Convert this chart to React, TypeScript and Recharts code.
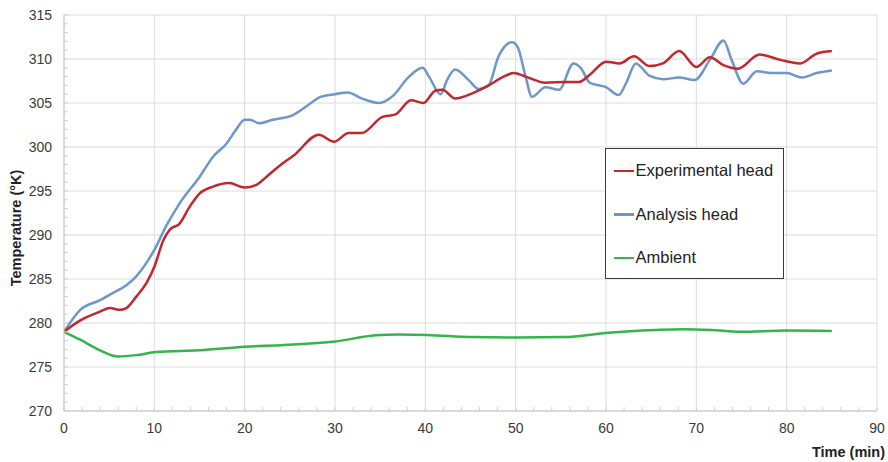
import React from 'react';
import { LineChart, Line, XAxis, YAxis, CartesianGrid, Legend } from 'recharts';

// Experimental head (red)
const expTime = [0, 1.8, 4, 5.1, 6.2, 6.9, 8, 9.1, 10, 11, 11.7, 12.8, 13.9, 15, 16.5, 18.3, 20, 21.3, 22.4, 23.9, 25.5, 28.2, 29.9, 31.5, 33, 35.2, 36.7, 38.4, 39.8, 41.1, 41.9, 43.3, 45.2, 47, 48.5, 49.8, 51.1, 53.3, 55.5, 57, 58.3, 60, 61.5, 63.1, 64.8, 66.3, 68.1, 70, 71.5, 73, 74.6, 77, 79.3, 81.5, 83.3, 85];
const expTemp = [279, 280.3, 281.3, 281.7, 281.5, 281.7, 283, 284.5, 286.4, 289.4, 290.6, 291.3, 293.2, 294.7, 295.5, 295.9, 295.4, 295.7, 296.6, 297.9, 299.1, 301.4, 300.6, 301.6, 301.6, 303.4, 303.7, 305.3, 305.0, 306.4, 306.5, 305.5, 306.1, 307.0, 307.9, 308.4, 308.0, 307.3, 307.4, 307.4, 308.3, 309.7, 309.5, 310.3, 309.2, 309.5, 310.9, 309.1, 310.2, 309.3, 308.9, 310.5, 309.9, 309.5, 310.6, 310.9];

// Analysis head (blue)
const anaTime = [0, 1.8, 4, 5.4, 6.9, 8, 9.1, 10, 11.3, 12.8, 15, 16.5, 18, 19, 20, 20.6, 21.6, 23.1, 25.3, 26.8, 28.4, 30, 31.4, 33, 34.9, 36.3, 38.2, 39.7, 40.4, 41.7, 42.4, 43.3, 44.8, 45.9, 47, 48.1, 49.6, 50.2, 51.1, 51.8, 53.3, 54.8, 56.4, 57.2, 58.2, 60, 61.4, 62.2, 63.3, 64.8, 66.3, 68.1, 69.8, 71.5, 73, 73.9, 75.2, 76.7, 78.5, 80, 81.7, 83.3, 85];
const anaTemp = [279, 281.5, 282.6, 283.4, 284.3, 285.3, 286.8, 288.3, 291, 293.6, 296.6, 298.9, 300.4, 301.9, 303.1, 303.1, 302.7, 303.1, 303.6, 304.6, 305.7, 306.0, 306.2, 305.5, 305.0, 305.7, 308.0, 309.0, 308.0, 306.0, 307.6, 308.8, 307.6, 306.6, 307.0, 310.3, 311.9, 311.4, 308.0, 305.7, 306.8, 306.5, 309.5, 309.0, 307.3, 306.8, 305.9, 307.2, 309.5, 308.1, 307.7, 307.9, 307.6, 309.9, 312.1, 309.9, 307.2, 308.6, 308.4, 308.4, 307.9, 308.4, 308.7];

// Ambient (green)
const ambTime = [0, 1.8, 4, 6, 8, 10.2, 15, 20, 24.4, 30, 34.5, 37, 40.2, 45.2, 50.3, 55.3, 60.3, 65.4, 68.5, 71.7, 74.8, 79.9, 85];
const ambTemp = [279, 278.1, 276.9, 276.2, 276.35, 276.7, 276.9, 277.3, 277.5, 277.9, 278.6, 278.7, 278.65, 278.4, 278.35, 278.4, 278.9, 279.2, 279.3, 279.2, 279.0, 279.15, 279.1];

const xMinorTicks = Array.from({ length: 46 }, (_, i) => i * 2);
const xMajorTicks = [0, 10, 20, 30, 40, 50, 60, 70, 80, 90];
const yMinorTicks = Array.from({ length: 46 }, (_, i) => 270 + i);
const yMajorTicks = [270, 275, 280, 285, 290, 295, 300, 305, 310, 315];

const seriesNames = ['Experimental head', 'Analysis head', 'Ambient'];
const seriesColors = ['#C0282E', '#6E96C8', '#35B44C'];

const toData = (ts: number[], vs: number[]) => ts.map((t, i) => ({ t, v: vs[i] }));
const expData = toData(expTime, expTemp);
const anaData = toData(anaTime, anaTemp);
const ambData = toData(ambTime, ambTemp);

const FONT = '"Liberation Sans", Arial, sans-serif';
const TICK_GAP = 12;

const XTick = (props: any) => {
  const { x, y, payload } = props;
  const axisY = y - TICK_GAP;
  const major = payload.value % 10 === 0;
  return (
    <g>
      <line x1={x} x2={x} y1={axisY} y2={axisY - 4} stroke="#cfcfcf" strokeWidth={1} />
      {major && (
        <text x={x} y={y} dy="0.71em" textAnchor="middle" fontSize={14} fill="#3a3a3a" fontFamily={FONT}>
          {payload.value}
        </text>
      )}
    </g>
  );
};

const YTick = (props: any) => {
  const { x, y, payload } = props;
  const axisX = x + TICK_GAP;
  const major = payload.value % 5 === 0;
  return (
    <g>
      <line x1={axisX} x2={axisX + 4} y1={y} y2={y} stroke="#cfcfcf" strokeWidth={1} />
      {major && (
        <text x={x} y={y} dy="0.355em" textAnchor="end" fontSize={14} fill="#3a3a3a" fontFamily={FONT}>
          {payload.value}
        </text>
      )}
    </g>
  );
};

const LegendBox = () => (
  <div
    style={{
      width: 179,
      height: 131,
      border: '1.5px solid #3a3a3a',
      background: '#fff',
      boxSizing: 'border-box',
      paddingTop: 0,
      fontFamily: FONT,
    }}
  >
    {seriesNames.map((n, i) => (
      <div key={n} style={{ display: 'flex', alignItems: 'center', height: 43.5 }}>
        <div style={{ width: 20, height: 2.5, background: seriesColors[i], marginLeft: 7.5, marginRight: 2 }} />
        <span style={{ fontSize: 16.5, color: '#222', whiteSpace: 'nowrap' }}>{n}</span>
      </div>
    ))}
  </div>
);

const YLabel = (props: any) => {
  const vb = props.viewBox || { x: 0, y: 15, width: 64, height: 396 };
  const cx = vb.x + 16;
  const cy = vb.y + vb.height / 2 + 15;
  return (
    <text x={cx} y={cy} transform={`rotate(-90, ${cx}, ${cy})`} textAnchor="middle" dy="0.35em" fontSize={14.5} fontWeight="bold" fill="#222" fontFamily={FONT}>
      Temperature (°K)
    </text>
  );
};

const XLabel = (props: any) => {
  const vb = props.viewBox || { x: 64, y: 411, width: 813, height: 51 };
  const rx = vb.x + vb.width + 8;
  const ry = vb.y + 41;
  return (
    <text x={rx} y={ry} textAnchor="end" dy="0.35em" fontSize={14.5} fontWeight="bold" fill="#222" fontFamily={FONT}>
      Time (min)
    </text>
  );
};

export default function App() {
  return (
    <div style={{ position: 'absolute', left: 0, top: 0, width: 888, height: 462, background: '#fff' }}>
      <LineChart width={888} height={462} margin={{ top: 15, right: 11, bottom: 0, left: 0 }}>
        <CartesianGrid
          stroke="#dcdcdc"
          strokeWidth={1}
          horizontalValues={yMajorTicks}
          verticalValues={xMajorTicks}
        />
        <XAxis
          dataKey="t"
          type="number"
          domain={[0, 90]}
          ticks={xMinorTicks}
          interval={0}
          height={51}
          tickSize={0}
          tickMargin={TICK_GAP}
          tickLine={false}
          tick={<XTick />}
          axisLine={{ stroke: '#c4c4c4', strokeWidth: 1 }}
          allowDataOverflow
          label={<XLabel />}
        />
        <YAxis
          type="number"
          domain={[270, 315]}
          ticks={yMinorTicks}
          interval={0}
          width={64}
          tickSize={0}
          tickMargin={TICK_GAP}
          tickLine={false}
          tick={<YTick />}
          axisLine={{ stroke: '#c4c4c4', strokeWidth: 1 }}
          allowDataOverflow
          label={<YLabel />}
        />
        <Legend
          layout="vertical"
          align="center"
          verticalAlign="middle"
          content={<LegendBox />}
          wrapperStyle={{ position: 'absolute', left: 605, top: 148, width: 179, height: 131 }}
        />
        <Line data={ambData} dataKey="v" name={seriesNames[2]} type="monotone" stroke={seriesColors[2]} strokeWidth={2.5} dot={false} activeDot={false} isAnimationActive={false} />
        <Line data={anaData} dataKey="v" name={seriesNames[1]} type="monotone" stroke={seriesColors[1]} strokeWidth={2.5} dot={false} activeDot={false} isAnimationActive={false} />
        <Line data={expData} dataKey="v" name={seriesNames[0]} type="monotone" stroke={seriesColors[0]} strokeWidth={2.5} dot={false} activeDot={false} isAnimationActive={false} />
      </LineChart>
    </div>
  );
}
